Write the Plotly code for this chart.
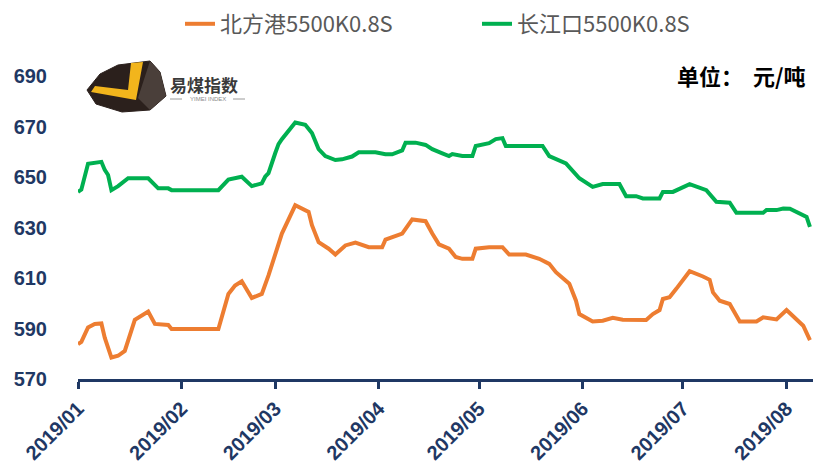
import plotly.graph_objects as go

# ---------------- data ----------------
north_dates = ["2019-01-01","2019-01-02","2019-01-04","2019-01-06","2019-01-08","2019-01-09","2019-01-11",
               "2019-01-13","2019-01-15","2019-01-18","2019-01-22","2019-01-24","2019-01-28","2019-01-29",
               "2019-02-12","2019-02-15","2019-02-17","2019-02-19","2019-02-22","2019-02-25","2019-02-27",
               "2019-03-02","2019-03-03","2019-03-07","2019-03-11","2019-03-12","2019-03-14","2019-03-17",
               "2019-03-19","2019-03-22","2019-03-25","2019-03-29","2019-04-02","2019-04-03","2019-04-08",
               "2019-04-11","2019-04-15","2019-04-17","2019-04-19","2019-04-22","2019-04-24","2019-04-26",
               "2019-04-29","2019-04-30","2019-05-04","2019-05-08","2019-05-10","2019-05-15","2019-05-19",
               "2019-05-22","2019-05-24","2019-05-28","2019-05-30","2019-05-31","2019-06-02","2019-06-04",
               "2019-06-07","2019-06-10","2019-06-13","2019-06-20","2019-06-22","2019-06-24","2019-06-25",
               "2019-06-27","2019-06-29","2019-07-03","2019-07-07","2019-07-09","2019-07-10","2019-07-12",
               "2019-07-15","2019-07-17","2019-07-18","2019-07-23","2019-07-25","2019-07-29","2019-08-01",
               "2019-08-06","2019-08-08"]
north_values = [583.8,584.7,590.4,591.8,592.0,586.4,578.5,
                579.2,581.1,593.4,596.7,591.8,591.4,589.8,
                589.8,603.7,607.0,608.7,602.1,603.7,611.0,
                623.0,627.6,638.8,636.2,630.9,624.2,621.6,
                619.3,622.9,624.0,622.2,622.2,625.2,627.6,
                633.2,632.5,627.6,623.3,621.6,618.3,617.6,
                617.6,621.6,622.2,622.2,619.3,619.3,617.6,
                615.6,612.3,607.7,601.0,595.7,594.4,592.8,
                593.1,594.2,593.5,593.4,595.7,597.3,601.7,
                602.4,605.7,612.7,610.6,609.3,604.3,601.0,
                599.7,594.7,592.8,592.8,594.4,593.6,597.3,
                591.1,585.4]

yangtze_dates = ["2019-01-01","2019-01-02","2019-01-04","2019-01-06","2019-01-08","2019-01-09","2019-01-10",
                 "2019-01-11","2019-01-13","2019-01-16","2019-01-22","2019-01-25","2019-01-28","2019-01-29",
                 "2019-02-12","2019-02-15","2019-02-19","2019-02-22","2019-02-25","2019-02-26","2019-02-27",
                 "2019-03-01","2019-03-02","2019-03-03","2019-03-07","2019-03-10","2019-03-12","2019-03-14",
                 "2019-03-16","2019-03-19","2019-03-21","2019-03-24","2019-03-26","2019-03-31","2019-04-03",
                 "2019-04-05","2019-04-08","2019-04-09","2019-04-12","2019-04-15","2019-04-17","2019-04-20",
                 "2019-04-22","2019-04-23","2019-04-26","2019-04-29","2019-04-30","2019-05-04","2019-05-06",
                 "2019-05-08","2019-05-09","2019-05-20","2019-05-22","2019-05-27","2019-05-31","2019-06-04",
                 "2019-06-07","2019-06-12","2019-06-14","2019-06-17","2019-06-19","2019-06-24","2019-06-25",
                 "2019-06-28","2019-07-03","2019-07-08","2019-07-11","2019-07-15","2019-07-17","2019-07-25",
                 "2019-07-26","2019-07-29","2019-07-31","2019-08-02","2019-08-06","2019-08-07","2019-08-08"]
yangtze_values = [644.1,645.0,655.2,655.7,656.0,652.8,650.8,
                  644.8,646.4,649.5,649.5,645.5,645.5,644.8,
                  644.8,649.0,650.1,646.4,647.5,650.1,651.5,
                  659.4,663.0,665.0,671.6,670.7,667.4,661.0,
                  658.3,656.7,657.0,658.1,659.8,659.8,659.0,
                  659.0,660.5,663.6,663.6,662.7,661.0,659.4,
                  658.3,659.1,658.3,658.3,662.3,663.4,665.0,
                  665.4,662.3,662.3,658.3,655.4,649.5,646.1,
                  647.2,647.2,642.4,642.4,641.5,641.5,644.1,
                  644.1,647.2,644.8,640.2,639.8,635.8,635.8,
                  636.9,636.9,637.5,637.4,634.9,634.2,630.2]

series_names = ["北方港5500K0.8S", "长江口5500K0.8S"]
series_colors = ["#ED7D31", "#00B050"]

y_ticks = [570, 590, 610, 630, 650, 670, 690]
x_tick_dates = ["2019-01-01","2019-02-01","2019-03-01","2019-04-01","2019-05-01","2019-06-01","2019-07-01","2019-08-01"]
x_tick_labels = ["2019/01","2019/02","2019/03","2019/04","2019/05","2019/06","2019/07","2019/08"]
unit_label = "单位："
unit_value = "元/吨"

# ---------------- figure ----------------
W, H = 813, 468
ML, MR, MT, MB = 78, 0, 76, 89
NAVY = "#1F3864"

def px(xp):
    return (xp - ML) / (W - ML - MR)

def py(yp):
    return (H - MB - yp) / (H - MB - MT)

fig = go.Figure()
for name, xs, ys, col in [(series_names[0], north_dates, north_values, series_colors[0]),
                          (series_names[1], yangtze_dates, yangtze_values, series_colors[1])]:
    fig.add_trace(go.Scatter(x=xs, y=ys, name=name, mode="lines",
                             line=dict(color=col, width=4), cliponaxis=False))

shapes = []
gem = [(87, 90), (100, 74), (118, 65), (150, 61), (160, 72), (166, 96), (150, 110), (122, 112), (96, 104)]
path = "M " + " L ".join(f"{px(a):.5f},{py(b):.5f}" for a, b in gem) + " Z"
shapes.append(dict(type="path", xref="paper", yref="paper", path=path,
                   fillcolor="#2B201C", line=dict(color="#2B201C", width=1), layer="above"))
facet = [(150, 61), (160, 72), (166, 96), (150, 110), (138, 98)]
path = "M " + " L ".join(f"{px(a):.5f},{py(b):.5f}" for a, b in facet) + " Z"
shapes.append(dict(type="path", xref="paper", yref="paper", path=path,
                   fillcolor="#4A3F3A", line=dict(width=0), layer="above"))
chev = [(131, 63), (143, 62), (136, 100), (91, 92), (95, 86), (128, 90)]
path = "M " + " L ".join(f"{px(a):.5f},{py(b):.5f}" for a, b in chev) + " Z"
shapes.append(dict(type="path", xref="paper", yref="paper", path=path,
                   fillcolor="#F2B51C", line=dict(width=0), layer="above"))
for x0, x1 in [(170, 182), (233, 245)]:
    shapes.append(dict(type="line", xref="paper", yref="paper",
                       x0=px(x0), x1=px(x1), y0=py(99), y1=py(99),
                       line=dict(color="#9A9A9A", width=1), layer="above"))

annotations = [
    dict(text="<b>" + unit_label + "</b>", xref="paper", yref="paper", x=px(675), y=py(75),
         xanchor="left", yanchor="middle", showarrow=False,
         font=dict(family="Noto Sans CJK SC", size=22, color="#000000")),
    dict(text="<b>" + unit_value + "</b>", xref="paper", yref="paper", x=px(808), y=py(75),
         xanchor="right", yanchor="middle", showarrow=False,
         font=dict(family="Noto Sans CJK SC", size=22, color="#000000")),
    dict(text="<b>易煤指数</b>", xref="paper", yref="paper", x=px(168), y=py(84),
         xanchor="left", yanchor="middle", showarrow=False,
         font=dict(family="Noto Sans CJK SC", size=17, color="#3A3A3A")),
    dict(text="YIMEI INDEX", xref="paper", yref="paper", x=px(207.5), y=py(99),
         xanchor="center", yanchor="middle", showarrow=False,
         font=dict(family="Liberation Sans", size=6, color="#8A8A8A")),
]

fig.update_layout(
    width=W, height=H,
    margin=dict(l=ML, r=MR, t=MT, b=MB, autoexpand=False),
    paper_bgcolor="white", plot_bgcolor="white",
    showlegend=True,
    legend=dict(orientation="h", x=px(180), y=py(24), xanchor="left", yanchor="middle",
                font=dict(family="Noto Sans CJK SC", size=22, color="#595959"),
                entrywidth=252, entrywidthmode="pixels",
                tracegroupgap=0, bgcolor="rgba(0,0,0,0)"),
    shapes=shapes,
    annotations=annotations,
    xaxis=dict(type="date", range=["2019-01-01", "2019-08-08 22:00"],
               tickvals=x_tick_dates, ticktext=[f"<b>{t}</b>" for t in x_tick_labels],
               tickangle=-45,
               showgrid=False, zeroline=False,
               showline=True, linecolor=NAVY, linewidth=3,
               ticks="outside", ticklen=7, tickwidth=2.5, tickcolor=NAVY,
               tickfont=dict(family="Liberation Sans", size=20, color=NAVY),
               fixedrange=True),
    yaxis=dict(range=[570, 690], tickvals=y_ticks,
               ticktext=[f"<b>{v}</b>" for v in y_ticks],
               showgrid=False, zeroline=False, showline=False, ticks="",
               ticklabelstandoff=30, fixedrange=True,
               tickfont=dict(family="Liberation Sans", size=20, color=NAVY)),
)

fig.write_html("out.html", config={"displayModeBar": False},
               post_script="document.body.style.margin='0';document.body.style.overflow='hidden';")
